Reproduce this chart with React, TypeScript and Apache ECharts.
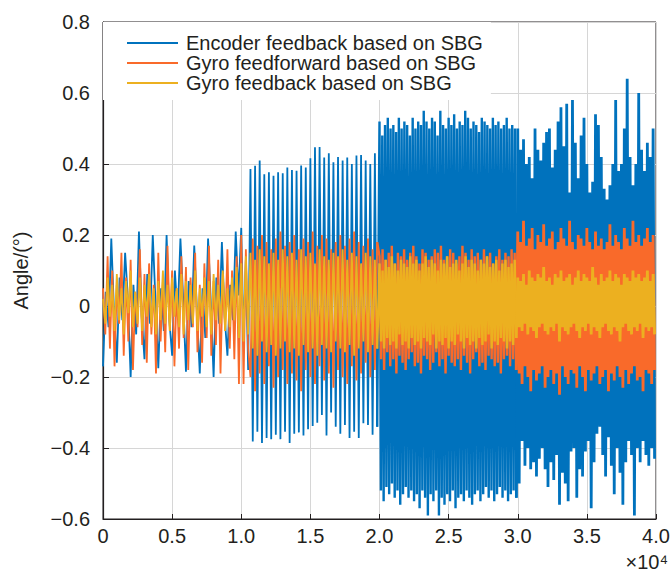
import React, { useEffect, useRef } from "react";
import * as echarts from "echarts";

// Segment length on the x axis (samples)
const SEG = 10000;

const seriesNames = [
  "Encoder feedback based on SBG",
  "Gyro feedforward based on SBG",
  "Gyro feedback based on SBG",
];
const colors = ["#0072BD", "#F96A2A", "#ECB020"];

const xTicks = ["0", "0.5", "1.0", "1.5", "2.0", "2.5", "3.0", "3.5", "4.0"];

// ---------- Encoder (blue) ----------
const encSeg1 = [
  -0.17, 0.04, -0.06, 0.19, -0.02,
  -0.16, 0.08, -0.04, 0.15, 0.02,
  -0.2, 0.06, -0.08, 0.21, -0.03,
  -0.15, 0.09, -0.05, 0.2, 0.01,
  -0.175, 0.05, -0.07, 0.2, -0.04,
  -0.14, 0.1, -0.03, 0.19, 0.02,
  -0.185, 0.07, -0.06, 0.17, -0.02,
  -0.19, 0.05, -0.09, 0.19, 0.01,
  -0.2, 0.08, -0.05, 0.18, -0.03,
  -0.14, 0.06, -0.04, 0.21, 0.03,
];
const encSeg2 = [
  0.22, -0.1, 0.13, -0.18,
  0.386, -0.382, 0.395, -0.354, 0.41, -0.386, 0.371, -0.372, 0.377, -0.375,
  0.367, -0.363, 0.377, -0.375, 0.374, -0.354, 0.39, -0.386, 0.383, -0.36,
  0.381, -0.356, 0.396, -0.365, 0.39, -0.347, 0.416, -0.338, 0.447, -0.329,
  0.448, -0.307, 0.418, -0.365, 0.43, -0.3, 0.405, -0.34, 0.42, -0.36,
  0.41, -0.335, 0.418, -0.372, 0.4, -0.354, 0.424, -0.372, 0.425, -0.33,
  0.41, -0.335, 0.4, -0.363, 0.43, -0.34,
];
const encSeg3Peaks = [
  0.52, 0.48, 0.51, 0.53, 0.5, 0.51, 0.49, 0.53, 0.5, 0.52,
  0.51, 0.48, 0.53, 0.5, 0.52, 0.51, 0.55, 0.52, 0.5, 0.53,
  0.52, 0.48, 0.55, 0.51, 0.5, 0.53, 0.51, 0.54, 0.5, 0.52,
  0.51, 0.55, 0.53, 0.5, 0.52, 0.51, 0.49, 0.53, 0.52, 0.51,
  0.5, 0.53, 0.51, 0.52, 0.5, 0.51, 0.53, 0.5, 0.51, 0.5,
];
const encSeg3Troughs = [
  -0.52, -0.55, -0.51, -0.53, -0.5, -0.54, -0.52, -0.56, -0.53, -0.51,
  -0.54, -0.52, -0.55, -0.53, -0.57, -0.52, -0.54, -0.59, -0.53, -0.55,
  -0.52, -0.59, -0.54, -0.56, -0.53, -0.55, -0.52, -0.57, -0.54, -0.53,
  -0.55, -0.52, -0.54, -0.56, -0.53, -0.52, -0.55, -0.53, -0.51, -0.54,
  -0.52, -0.55, -0.53, -0.51, -0.54, -0.52, -0.55, -0.53, -0.52, -0.54,
];
const encSeg4Peaks = [
  0.5, 0.44, 0.47, 0.4, 0.42, 0.36, 0.5, 0.44, 0.41, 0.46,
  0.49, 0.5, 0.39, 0.44, 0.52, 0.56, 0.45, 0.57, 0.32, 0.58,
  0.46, 0.36, 0.48, 0.53, 0.4, 0.32, 0.35, 0.54, 0.51, 0.42,
  0.33, 0.3, 0.34, 0.4, 0.58, 0.38, 0.4, 0.5, 0.64, 0.42,
  0.34, 0.4, 0.6, 0.44, 0.38, 0.46, 0.42, 0.5,
];
const encSeg4Troughs = [
  -0.5, -0.38, -0.45, -0.4, -0.46, -0.44, -0.48, -0.43, -0.4, -0.46,
  -0.51, -0.44, -0.49, -0.42, -0.56, -0.47, -0.5, -0.55, -0.41, -0.4,
  -0.54, -0.46, -0.48, -0.41, -0.38, -0.57, -0.44, -0.36, -0.34, -0.42,
  -0.48, -0.37, -0.45, -0.53, -0.4, -0.47, -0.56, -0.44, -0.38, -0.42,
  -0.59, -0.4, -0.44, -0.38, -0.42, -0.45, -0.4, -0.43,
];

// ---------- Gyro feedforward (orange) ----------
const ffSeg1 = [
  0.05, -0.08, 0.14, -0.12, 0.1, -0.17, 0.06, -0.05, 0.15, -0.14,
  0.08, -0.1, 0.13, -0.18, 0.04, -0.06, 0.16, -0.11, 0.09, -0.16,
  0.12, -0.08, 0.06, -0.19, 0.15, -0.1, 0.07, -0.13, 0.17, -0.07,
  0.1, -0.17, 0.05, -0.12, 0.14, -0.09, 0.11, -0.18, 0.08, -0.06,
  0.15, -0.13, 0.06, -0.16, 0.12, -0.09, 0.17, -0.14, 0.07, -0.11,
  0.13, -0.19, 0.09, -0.07, 0.16, -0.12, 0.1, -0.15, 0.14, -0.22,
];
const ffSeg2 = [
  0.2, -0.22, 0.16, -0.12,
  -0.2, 0.19, -0.24, 0.17, -0.19, 0.2, -0.22, 0.18, -0.17, 0.16,
  -0.23, 0.19, -0.2, 0.21, -0.18, 0.17, -0.22, 0.18, -0.19, 0.2,
  -0.21, 0.16, -0.24, 0.19, -0.18, 0.18, -0.2, 0.21, -0.22, 0.17,
  -0.17, 0.2, -0.21, 0.19, -0.19, 0.16, -0.23, 0.18, -0.18, 0.2,
  -0.2, 0.17, -0.22, 0.19, -0.17, 0.21, -0.21, 0.18, -0.19, 0.17,
  -0.16, 0.19, -0.2, 0.16, -0.18, 0.18,
];
const ffSeg3Peaks = [
  0.14, 0.16, 0.13, 0.15, 0.17, 0.12, 0.15, 0.14, 0.16, 0.13,
  0.15, 0.17, 0.14, 0.12, 0.16, 0.15, 0.13, 0.14, 0.16, 0.15,
  0.17, 0.13, 0.14, 0.16, 0.15, 0.12, 0.14, 0.17, 0.15, 0.13,
  0.16, 0.14, 0.15, 0.13, 0.16, 0.14, 0.15, 0.12, 0.14, 0.16,
  0.13, 0.15, 0.14, 0.16, 0.15,
];
const ffSeg3Troughs = [
  -0.15, -0.18, -0.13, -0.17, -0.15, -0.19, -0.14, -0.16, -0.18, -0.15,
  -0.13, -0.17, -0.16, -0.19, -0.14, -0.15, -0.18, -0.16, -0.13, -0.17,
  -0.15, -0.19, -0.14, -0.16, -0.17, -0.15, -0.18, -0.14, -0.16, -0.19,
  -0.15, -0.13, -0.17, -0.16, -0.18, -0.14, -0.15, -0.17, -0.16, -0.19,
  -0.15, -0.14, -0.17, -0.15, -0.18,
];
const ffSeg4Peaks = [
  0.21, 0.18, 0.24, 0.17, 0.19, 0.22, 0.16, 0.2, 0.18, 0.23,
  0.17, 0.19, 0.21, 0.16, 0.18, 0.22, 0.19, 0.17, 0.24, 0.18,
  0.16, 0.2, 0.19, 0.17, 0.22, 0.18, 0.16, 0.21, 0.17, 0.19,
  0.16, 0.18, 0.23, 0.17, 0.2, 0.18, 0.16, 0.22, 0.19, 0.17,
  0.24, 0.18, 0.2, 0.17, 0.19, 0.22, 0.18, 0.2,
];
const ffSeg4Troughs = [
  -0.19, -0.22, -0.17, -0.2, -0.24, -0.18, -0.21, -0.19, -0.17, -0.23,
  -0.2, -0.18, -0.22, -0.19, -0.25, -0.17, -0.2, -0.22, -0.18, -0.19,
  -0.23, -0.17, -0.2, -0.24, -0.18, -0.21, -0.19, -0.17, -0.22, -0.2,
  -0.18, -0.24, -0.19, -0.21, -0.17, -0.2, -0.23, -0.18, -0.22, -0.19,
  -0.17, -0.21, -0.2, -0.24, -0.18, -0.19, -0.22, -0.18,
];

// ---------- Gyro feedback (yellow) ----------
const fbSeg1 = [
  0.02, -0.05, 0.08, -0.03, 0.06, -0.07, 0.09, -0.04, 0.05, -0.08,
  0.07, -0.02, 0.1, -0.06, 0.04, -0.05, 0.08, -0.07, 0.06, -0.03,
  0.09, -0.06, 0.05, -0.08, 0.07, -0.04, 0.1, -0.05, 0.06, -0.07,
  0.08, -0.03, 0.05, -0.06, 0.09, -0.08, 0.07, -0.04, 0.06, -0.05,
  0.1, -0.07, 0.05, -0.03, 0.08, -0.06, 0.07, -0.08, 0.09, -0.04,
  0.06, -0.05, 0.1, -0.07, 0.05, -0.06, 0.08, -0.04, 0.11, -0.09,
];
const fbSeg2 = [
  0.12, -0.1, 0.14, -0.08,
  0.15, -0.12, 0.13, -0.14, 0.16, -0.1, 0.14, -0.13, 0.12, -0.11,
  0.15, -0.14, 0.13, -0.12, 0.16, -0.1, 0.14, -0.13, 0.15, -0.12,
  0.13, -0.14, 0.16, -0.11, 0.14, -0.13, 0.15, -0.12, 0.12, -0.14,
  0.16, -0.11, 0.14, -0.12, 0.13, -0.13, 0.15, -0.1, 0.14, -0.12,
  0.16, -0.13, 0.13, -0.11, 0.15, -0.14, 0.14, -0.12, 0.12, -0.1,
  0.15, -0.13, 0.14, -0.11, 0.13, -0.12,
];
const fbSeg3Peaks = [
  0.12, 0.1, 0.13, 0.11, 0.14, 0.12, 0.1, 0.13, 0.12, 0.11,
  0.14, 0.12, 0.13, 0.1, 0.12, 0.14, 0.11, 0.13, 0.12, 0.1,
  0.13, 0.12, 0.14, 0.11, 0.12, 0.13, 0.1, 0.12, 0.14, 0.11,
  0.13, 0.12, 0.1, 0.13, 0.12, 0.14, 0.11, 0.12, 0.13, 0.1,
  0.12, 0.13, 0.11, 0.12, 0.13,
];
const fbSeg3Troughs = [
  -0.1, -0.12, -0.09, -0.11, -0.1, -0.12, -0.08, -0.11, -0.1, -0.12,
  -0.09, -0.11, -0.1, -0.12, -0.09, -0.1, -0.11, -0.08, -0.12, -0.1,
  -0.11, -0.09, -0.12, -0.1, -0.11, -0.08, -0.1, -0.12, -0.09, -0.11,
  -0.1, -0.12, -0.09, -0.11, -0.1, -0.08, -0.12, -0.1, -0.11, -0.09,
  -0.1, -0.12, -0.1, -0.11, -0.09,
];
const fbSeg4Peaks = [
  0.08, 0.07, 0.09, 0.06, 0.1, 0.08, 0.07, 0.09, 0.08, 0.11,
  0.07, 0.08, 0.06, 0.09, 0.08, 0.1, 0.07, 0.08, 0.09, 0.06,
  0.08, 0.1, 0.07, 0.09, 0.08, 0.07, 0.11, 0.08, 0.06, 0.09,
  0.07, 0.08, 0.1, 0.07, 0.09, 0.08, 0.06, 0.09, 0.08, 0.07,
  0.1, 0.08, 0.09, 0.07, 0.08, 0.1, 0.07, 0.09,
];
const fbSeg4Troughs = [
  -0.06, -0.07, -0.05, -0.08, -0.06, -0.07, -0.09, -0.06, -0.05, -0.07,
  -0.08, -0.06, -0.07, -0.05, -0.1, -0.06, -0.07, -0.08, -0.06, -0.05,
  -0.07, -0.09, -0.06, -0.07, -0.05, -0.08, -0.06, -0.07, -0.09, -0.06,
  -0.05, -0.07, -0.08, -0.06, -0.07, -0.1, -0.06, -0.05, -0.07, -0.08,
  -0.06, -0.07, -0.05, -0.09, -0.06, -0.07, -0.06, -0.08,
];

// Interleave read peaks and troughs into one sample sequence
function zigzag(peaks: number[], troughs: number[]): number[] {
  const out: number[] = [];
  for (let i = 0; i < peaks.length; i++) {
    out.push(peaks[i]);
    if (i < troughs.length) out.push(troughs[i]);
  }
  return out;
}

// Place one segment's samples evenly over its 1e4-sample span
function place(k: number, arr: number[]): number[][] {
  return arr.map((v, i) => [k * SEG + (i * SEG) / arr.length, v]);
}

const TEXT = "#231F20";
const FONT = "'Liberation Sans', Arial, Helvetica, sans-serif";
const FS = 20;

export default function App() {
  const ref = useRef<HTMLDivElement>(null);

  useEffect(() => {
    if (!ref.current) return;
    const chart = echarts.init(ref.current, null, { renderer: "svg" });

    const segsPerSeries = [
      [encSeg1, encSeg2, zigzag(encSeg3Peaks, encSeg3Troughs), zigzag(encSeg4Peaks, encSeg4Troughs)],
      [ffSeg1, ffSeg2, zigzag(ffSeg3Peaks, ffSeg3Troughs), zigzag(ffSeg4Peaks, ffSeg4Troughs)],
      [fbSeg1, fbSeg2, zigzag(fbSeg3Peaks, fbSeg3Troughs), zigzag(fbSeg4Peaks, fbSeg4Troughs)],
    ];
    // Slow part (segments 1-2) drawn with a thin stroke, dense part (3-4) with a
    // wider stroke so the fast oscillation fills in as in the original plot.
    const parts = [
      { segs: [0, 1], width: 1.8 },
      { segs: [2], width: 2.4 },
      { segs: [3], width: 2.8 },
    ];

    const series: any[] = [];
    segsPerSeries.forEach((segs, si) => {
      let prevLast: number[] | null = null;
      parts.forEach((p) => {
        const pts: number[][] = [];
        if (prevLast) pts.push(prevLast);
        p.segs.forEach((k) => pts.push(...place(k, segs[k])));
        prevLast = pts[pts.length - 1];
        series.push({
          name: seriesNames[si],
          type: "line",
          data: pts,
          showSymbol: false,
          symbol: "none",
          silent: true,
          clip: true,
          color: colors[si],
          lineStyle: { color: colors[si], width: p.width },
          z: 2 + si,
        });
      });
    });

    const fmtY = (v: number) => {
      if (Math.abs(v) < 1e-9) return "0";
      const s = Math.abs(v).toFixed(1);
      return v < 0 ? "\u2212" + s : s;
    };

    chart.setOption({
      animation: false,
      backgroundColor: "#ffffff",
      textStyle: { fontFamily: FONT },
      grid: {
        left: 103,
        top: 22,
        right: 14,
        bottom: 55,
        outerBoundsMode: "none",
        containLabel: false,
        show: true,
        borderColor: TEXT,
        borderWidth: 1,
        backgroundColor: "transparent",
      },
      legend: {
        left: 103,
        top: 22,
        orient: "vertical",
        icon: "rect",
        itemWidth: 51,
        itemHeight: 2,
        itemGap: 0,
        padding: [11, 8, 7, 24],
        backgroundColor: "#ffffff",
        data: seriesNames,
        textStyle: {
          fontSize: FS,
          color: TEXT,
          fontFamily: FONT,
          lineHeight: 20,
          padding: [0, 0, 0, 3],
        },
      },
      xAxis: {
        type: "value",
        min: 0,
        max: 40000,
        interval: 5000,
        axisLine: { show: true, onZero: false, lineStyle: { color: TEXT, width: 1.2 } },
        axisTick: { show: true, inside: true, length: 5, lineStyle: { color: TEXT } },
        axisLabel: {
          fontSize: FS,
          color: TEXT,
          fontFamily: FONT,
          margin: 7,
          formatter: (v: number) => xTicks[Math.round(v / 5000)] ?? "",
        },
        splitLine: { show: true, lineStyle: { color: "#D6D6D6", width: 1 } },
      },
      yAxis: {
        type: "value",
        min: -0.6,
        max: 0.8,
        interval: 0.2,
        name: "Angle/(\u00B0)",
        nameLocation: "middle",
        nameGap: 72,
        nameTextStyle: { fontSize: FS, color: TEXT, fontFamily: FONT },
        axisLine: { show: true, onZero: false, lineStyle: { color: TEXT, width: 1.2 } },
        axisTick: { show: true, inside: true, length: 6, lineStyle: { color: TEXT } },
        axisLabel: {
          fontSize: FS,
          color: TEXT,
          fontFamily: FONT,
          margin: 13,
          formatter: fmtY,
        },
        splitLine: { show: true, lineStyle: { color: "#D6D6D6", width: 1 } },
      },
      graphic: [
        {
          type: "text",
          right: 2,
          top: 552,
          style: {
            text: "\u00D710\u2074",
            fontSize: FS,
            fill: TEXT,
            fontFamily: FONT,
          },
        },
      ],
      series,
    });

    return () => {
      chart.dispose();
    };
  }, []);

  return (
    <div
      ref={ref}
      style={{ position: "absolute", left: 0, top: 0, width: 670, height: 574 }}
    />
  );
}
